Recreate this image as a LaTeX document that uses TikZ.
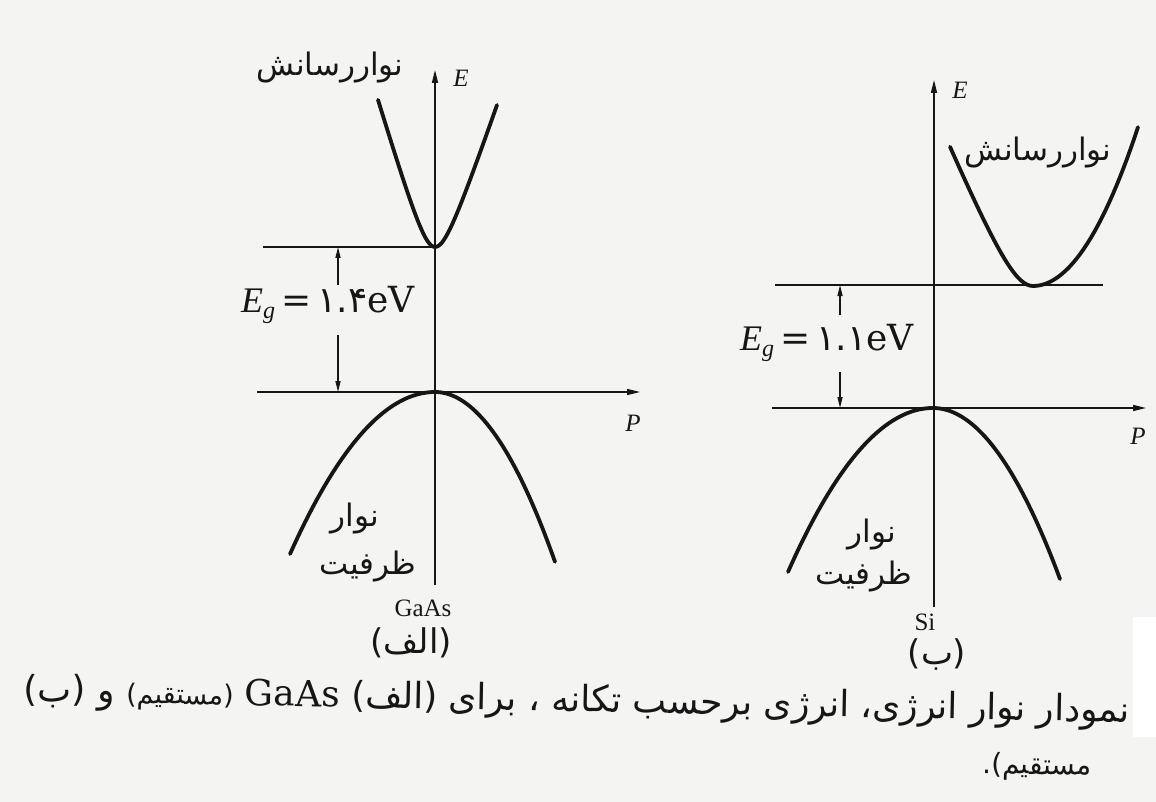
\documentclass[tikz,border=0pt]{standalone}
\usepackage{fontspec}
\setmainfont{Liberation Serif}
\newfontfamily\arabicfont[Script=Arabic]{DejaVu Sans}
\newfontfamily\widefont{DejaVu Serif}
\TeXXeTstate=1
\usetikzlibrary{arrows.meta,positioning}
\definecolor{paper}{RGB}{244,244,242}
\definecolor{ink}{RGB}{22,22,22}

\begin{document}
\begin{tikzpicture}[
    x=1pt,y=-1pt,
    node distance=6pt,
    axis/.style={draw=ink,line width=1.4pt,-{Triangle[length=13pt,width=6pt]}},
    level/.style={draw=ink,line width=1.6pt},
    gaparr/.style={draw=ink,line width=1.3pt,-{Triangle[length=11pt,width=5pt]}},
    band/.style={draw=ink,line width=3.8pt,line cap=round},
    fa/.style={font=\arabicfont\fontsize{31}{34}\selectfont,inner sep=0pt,text=ink},
    tagfa/.style={font=\arabicfont\fontsize{34}{36}\selectfont,inner sep=0pt,text=ink},
    axlabel/.style={font=\itshape\fontsize{25}{28}\selectfont,inner sep=0pt,text=ink},
    matlabel/.style={font=\fontsize{25}{28}\selectfont,inner sep=0pt,text=ink},
    eglabel/.style={font=\fontsize{36}{40}\selectfont,inner sep=0pt,text=ink},
    caption/.style={font=\arabicfont\fontsize{36}{38}\selectfont,inner sep=0pt,text=ink,rotate=-1.1}]
    \fill[paper] (0,0) rectangle (1156,802);
    \useasboundingbox (0,0) rectangle (1156,802);
    \fill[white] (1133,617) rectangle (1156,737);

    % (الف) GaAs
    \coordinate (eBotA) at (435,585);
    \coordinate (eTopA) at (435,70);
    \coordinate (pLeftA) at (257,392);
    \coordinate (pTipA) at (640,392);
    \coordinate (cLeftA) at (263,247);
    \coordinate (cMinA) at (435,247);
    \coordinate (upA) at (338,247);
    \coordinate (upTailA) at (338,285);
    \coordinate (dnA) at (338,392);
    \coordinate (dnTailA) at (338,335);
    \draw[axis] (eBotA) -- (eTopA);
    \draw[axis] (pLeftA) -- (pTipA);
    \draw[level] (cLeftA) -- (cMinA);
    \draw[band] plot[domain=-57:0,samples=30] ({435+\x},{247-3.35*(sqrt(225+(\x)*(\x))-15)})
        -- plot[domain=0:62,samples=30] ({435+\x},{247-2.91*(sqrt(225+(\x)*(\x))-15)});
    \draw[band] plot[domain=-145:0,samples=40] ({435+\x},{392+0.0077*(\x)*(\x)})
        -- plot[domain=0:120,samples=40] ({435+\x},{392+0.0118*(\x)*(\x)});
    \draw[gaparr] (upTailA) -- (upA);
    \draw[gaparr] (dnTailA) -- (dnA);
    \node[fa] (cbA) at (330,68) {\beginR نواررسانش\endR};
    \node[axlabel] (eA) at (461,78) {E};
    \node[axlabel] (pA) at (633,423) {P};
    \node[eglabel] (egA) at (328,305) {\textit{E}\raisebox{-6pt}{\fontsize{24}{24}\selectfont\textit{g}}\,{\widefont=}\,{\arabicfont ۱.۴}{\widefont eV}};
    \node[fa] (vbA) at (355,519) {\beginR نوار\endR};
    \node[fa] (vbA2) at (368,567) {\beginR ظرفیت\endR};
    \node[matlabel] (gaas) at (423,608) {GaAs};
    \node[tagfa,below=11pt of gaas,xshift=-12pt] (tagA) {\beginR(الف)\endR};

    % (ب) Si
    \coordinate (eBotB) at (934,607);
    \coordinate (eTopB) at (934,80);
    \coordinate (pLeftB) at (772,408);
    \coordinate (pTipB) at (1146,408);
    \coordinate (cLeftB) at (775,285);
    \coordinate (cRightB) at (1103,285);
    \coordinate (upB) at (840,285);
    \coordinate (upTailB) at (840,315);
    \coordinate (dnB) at (840,408);
    \coordinate (dnTailB) at (840,372);
    \draw[axis] (eBotB) -- (eTopB);
    \draw[axis] (pLeftB) -- (pTipB);
    \draw[level] (cLeftB) -- (cRightB);
    \draw[band] plot[domain=-83:0,samples=30] ({1033+\x},{286-2.39*(sqrt(900+(\x)*(\x))-30)})
        -- plot[domain=0:105,samples=30] ({1033+\x},{286-0.0144*(\x)*(\x)});
    \draw[band] plot[domain=-145:0,samples=40] ({933+\x},{408+0.0078*(\x)*(\x)})
        -- plot[domain=0:127,samples=40] ({933+\x},{408+0.0106*(\x)*(\x)});
    \draw[gaparr] (upTailB) -- (upB);
    \draw[gaparr] (dnTailB) -- (dnB);
    \node[fa] (cbB) at (1038,153) {\beginR نواررسانش\endR};
    \node[axlabel] (eB) at (960,90) {E};
    \node[axlabel] (pB) at (1138,436) {P};
    \node[eglabel] (egB) at (827,343) {\textit{E}\raisebox{-6pt}{\fontsize{24}{24}\selectfont\textit{g}}\,{\widefont=}\,{\arabicfont ۱.۱}{\widefont eV}};
    \node[fa] (vbB) at (872,535) {\beginR نوار\endR};
    \node[fa] (vbB2) at (864,577) {\beginR ظرفیت\endR};
    \node[matlabel] (si) at (925,622) {Si};
    \node[tagfa,below=8pt of si,xshift=12pt] (tagB) {\beginR(ب)\endR};

    \node[caption,anchor=east] (cap1) at (1130,713) {\beginR نمودار نوار انرژی، انرژی برحسب تکانه ، برای (الف) \beginL{\widefont GaAs}\endL{} {\fontsize{27}{30}\selectfont(مستقیم)} و (ب)\endR};
    \node[caption,anchor=east,font=\arabicfont\fontsize{28}{30}\selectfont] (cap2) at (1092,768) {\beginR مستقیم).\endR};
\end{tikzpicture}
\end{document}
